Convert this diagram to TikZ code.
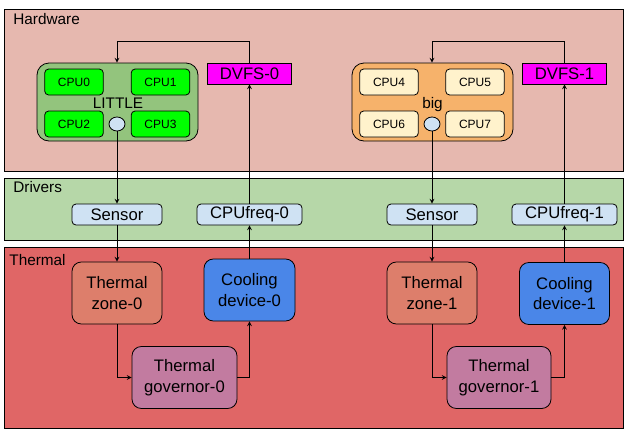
\documentclass[tikz,border=0pt]{standalone}
\usepackage{fontspec}
\setmainfont{Liberation Sans}
\usepackage{tikz}
\usetikzlibrary{positioning, arrows, shapes.geometric}
\usepackage{xcolor}

\definecolor{hwfill}{HTML}{E6B8AF}
\definecolor{drvfill}{HTML}{B6D7A8}
\definecolor{thfill}{HTML}{E06666}
\definecolor{littlefill}{HTML}{93C47D}
\definecolor{littlecpu}{HTML}{00FF00}
\definecolor{bigfill}{HTML}{F6B26B}
\definecolor{bigcpu}{HTML}{FFF2CC}
\definecolor{dvfsfill}{HTML}{FF00FF}
\definecolor{drvbox}{HTML}{CFE2F3}
\definecolor{zonefill}{HTML}{DD7E6B}
\definecolor{coolfill}{HTML}{4A86E8}
\definecolor{govfill}{HTML}{C27BA0}

\tikzset{
  band/.style={draw, rectangle, inner sep=0pt, minimum width=464.25pt},
  bandlabel/.style={anchor=base west, inner sep=0pt, font=\fontsize{11.5}{13}\selectfont},
  cluster/.style={draw, rectangle, rounded corners=9pt, minimum width=120.75pt, minimum height=58.5pt},
  clusterlabel/.style={inner sep=0pt, font=\fontsize{11.5}{13}\selectfont},
  cpu/.style={draw, rectangle, rounded corners=3pt, minimum width=44pt, minimum height=19.5pt,
              inner sep=0pt, font=\fontsize{9}{10}\selectfont},
  dot/.style={draw, ellipse, fill=drvbox, minimum width=12pt, minimum height=10.5pt, inner sep=0pt},
  dvfs/.style={draw, rectangle, fill=dvfsfill, minimum width=63pt, minimum height=15.75pt,
               inner sep=0pt, font=\fontsize{12.5}{14}\selectfont},
  drv/.style={draw, rectangle, rounded corners=3pt, fill=drvbox, minimum height=15.75pt,
              inner sep=0pt, font=\fontsize{12.5}{14}\selectfont},
  thbox/.style={draw, rectangle, rounded corners=7pt, minimum height=46.5pt, inner sep=0pt,
                align=center, font=\fontsize{12.5}{15.5}\selectfont}
}

\begin{document}
\begin{tikzpicture}[->,>=stealth,x=0.75pt,y=-0.75pt,semithick]
      \useasboundingbox (0,0) rectangle (624,429);

      % Layers
      \node[band, fill=hwfill, minimum height=121.5pt] (hw) at (313.5,90) {};
      \node[band, fill=drvfill, minimum height=46.5pt] (drv) at (313.5,209) {};
      \node[band, fill=thfill, minimum height=135.75pt] (th) at (313.5,337.5) {};
      \node[bandlabel] (hwlabel) at (13,24) {Hardware};
      \node[bandlabel] (drvlabel) at (13,192.5) {Drivers};
      \node[bandlabel] (thlabel) at (9,265) {Thermal};

      % Cluster 0 (LITTLE)
      \node[cluster, fill=littlefill] (little) at (117.5,102) {};
      \node[clusterlabel, anchor=base] (littlelabel) at (118,108.3) {LITTLE};
      \node[cpu, fill=littlecpu] (cpu0) at (74,82) {CPU0};
      \node[cpu, fill=littlecpu] (cpu1) at (160.5,82) {CPU1};
      \node[cpu, fill=littlecpu] (cpu2) at (74,124) {CPU2};
      \node[cpu, fill=littlecpu] (cpu3) at (160.5,124) {CPU3};
      \node[dot] (dot0) at (117,124) {};
      \node[dvfs] (dvfs0) at (249.5,73.5) {DVFS-0};

      % Cluster 1 (big)
      \node[cluster, fill=bigfill] (big) at (432.5,102) {};
      \node[clusterlabel, anchor=base] (biglabel) at (432.5,108.3) {big};
      \node[cpu, fill=bigcpu] (cpu4) at (389,82) {CPU4};
      \node[cpu, fill=bigcpu] (cpu5) at (475,82) {CPU5};
      \node[cpu, fill=bigcpu] (cpu6) at (389,124) {CPU6};
      \node[cpu, fill=bigcpu] (cpu7) at (475,124) {CPU7};
      \node[dot] (dot1) at (432,124) {};
      \node[dvfs] (dvfs1) at (564.5,73.5) {DVFS-1};

      % Drivers
      \node[drv, minimum width=67.5pt] (sensor0) at (117,214.5) {Sensor};
      \node[drv, minimum width=78.75pt] (cpufreq0) at (249.5,214.5) {CPUfreq-0};
      \node[drv, minimum width=67.5pt] (sensor1) at (432,214.5) {Sensor};
      \node[drv, minimum width=78.75pt] (cpufreq1) at (564.5,214.5) {CPUfreq-1};

      % Thermal framework
      \node[thbox, fill=zonefill, minimum width=67.5pt] (zone0) at (117,293) {Thermal\\zone-0};
      \node[thbox, fill=coolfill, minimum width=68.25pt] (cool0) at (249.5,290) {Cooling\\device-0};
      \node[thbox, fill=govfill, minimum width=78.75pt] (gov0) at (184.5,377.5) {Thermal\\governor-0};
      \node[thbox, fill=zonefill, minimum width=67.5pt] (zone1) at (432,293) {Thermal\\zone-1};
      \node[thbox, fill=coolfill, minimum width=67.5pt] (cool1) at (564.5,293.5) {Cooling\\device-1};
      \node[thbox, fill=govfill, minimum width=78pt] (gov1) at (499,377.5) {Thermal\\governor-1};

      % Corners of the feedback lines
      \coordinate (top0) at (117,41);
      \coordinate (top1) at (432,41);

      % Control loop 0
      \draw (dot0.south) -- (sensor0.north);
      \draw (sensor0.south) -- (zone0.north);
      \draw (zone0.south) |- (gov0.west);
      \draw (gov0.east) -| (cool0.south);
      \draw (cool0.north) -- (cpufreq0.south);
      \draw (cpufreq0.north) -- (dvfs0.south);
      \draw (dvfs0.north) |- (top0) -- (little.north -| top0);

      % Control loop 1
      \draw (dot1.south) -- (sensor1.north);
      \draw (sensor1.south) -- (zone1.north);
      \draw (zone1.south) |- (gov1.west);
      \draw (gov1.east) -| (cool1.south);
      \draw (cool1.north) -- (cpufreq1.south);
      \draw (cpufreq1.north) -- (dvfs1.south);
      \draw (dvfs1.north) |- (top1) -- (big.north -| top1);
\end{tikzpicture}
\end{document}
